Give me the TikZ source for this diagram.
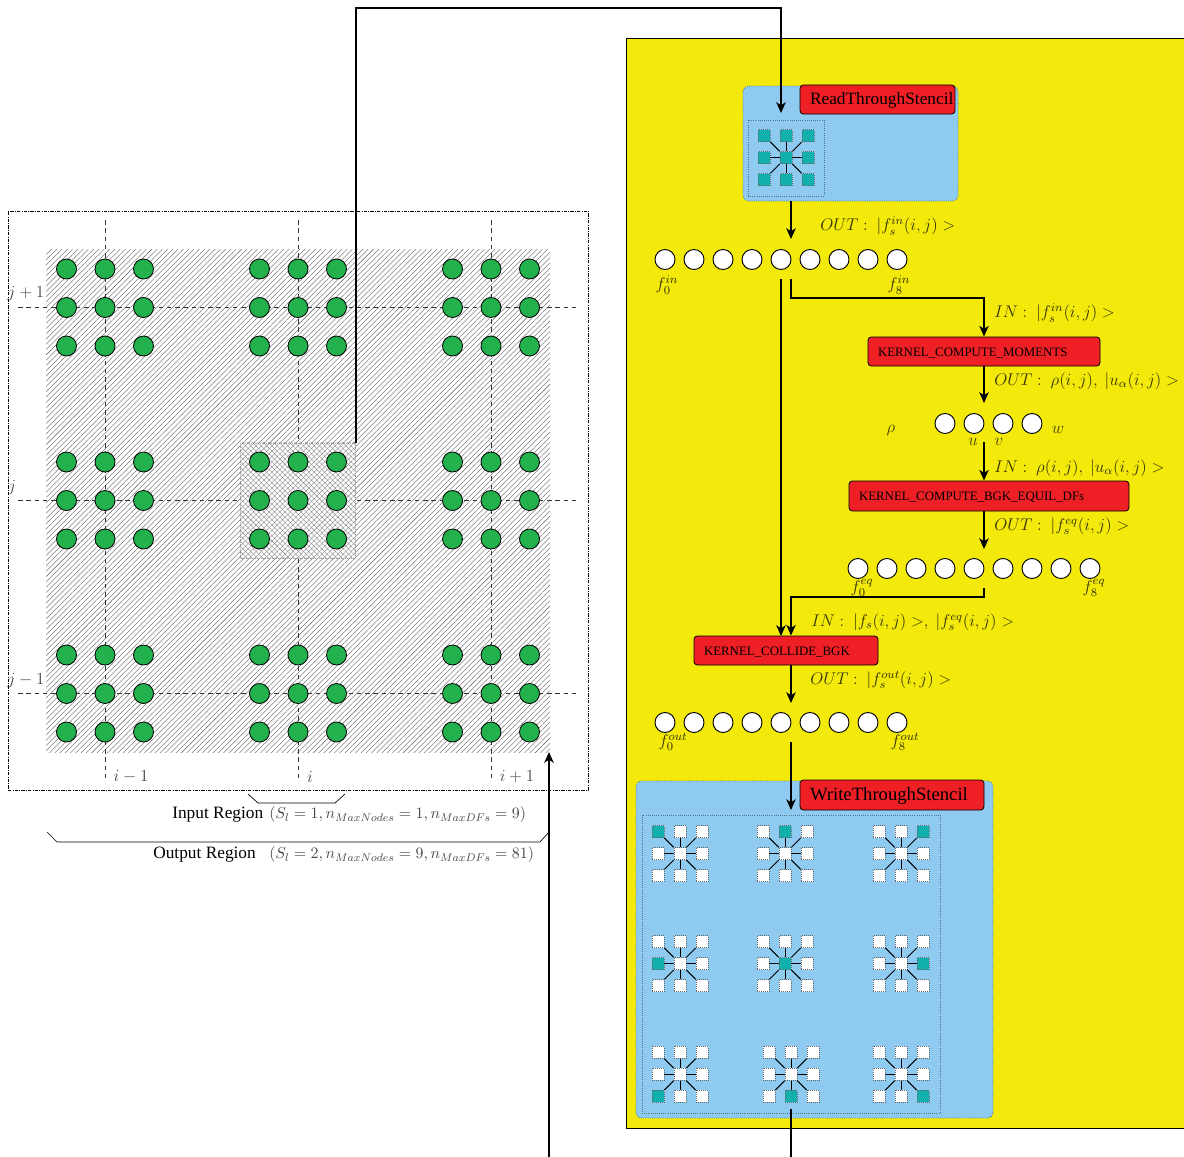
\documentclass[tikz,border=0pt]{standalone}
\usepackage{fontspec}
\usepackage{fix-cm}
\setmainfont{Liberation Serif}
\usetikzlibrary{arrows.meta,patterns.meta}
\definecolor{yel}{HTML}{F3EA0C}
\definecolor{skyb}{HTML}{8FCBF0}
\definecolor{redb}{HTML}{EE1F25}
\definecolor{grn}{HTML}{22B14C}
\definecolor{teal2}{HTML}{11B0AD}
\definecolor{dotc}{HTML}{4A7390}
\newcommand{\rlab}[2]{\makebox[#1][l]{\hspace{7.5pt}\raisebox{-1pt}[\dimexpr\height+1pt\relax][\dimexpr\depth+1pt\relax]{#2}}}
\newcommand{\mlab}{\fontsize{12.7}{15}\selectfont}
\newcommand{\klab}{\fontsize{9.65}{11}\selectfont}
\tikzset{
 flow/.style={line width=1.5pt,-{Stealth[length=8pt,width=7pt,inset=2.2pt]}},
 plainflow/.style={line width=1.5pt},
 dashline/.style={dashed,dash pattern=on 3.4pt off 2.8pt,line width=.6pt,black!80},
 gnode/.style={circle,draw=black,line width=.6pt,fill=grn,minimum size=15pt,inner sep=0pt},
 wnode/.style={circle,draw=black,line width=.7pt,fill=white,minimum size=15pt,inner sep=0pt},
 redbox/.style={draw=black,line width=.6pt,fill=redb,rounded corners=2.5pt,inner xsep=0pt,inner ysep=0pt,text=black},
 bluebox/.style={draw=dotc,densely dotted,line width=.6pt,fill=skyb,rounded corners=4pt,inner sep=0pt},
 innerbox/.style={draw=dotc,densely dotted,line width=.6pt,inner sep=0pt},
 sq/.style={draw=black!60,densely dotted,line width=.5pt,fill=white,minimum size=9pt,inner sep=0pt},
 sqt/.style={sq,fill=teal2},
 spoke/.style={line width=.75pt,black},
 mathl/.style={text=black,text opacity=.78,inner sep=0pt,font=\mlab},
 smalll/.style={text=black,text opacity=.72,inner sep=0pt,font=\mlab},
 regm/.style={text=black,text opacity=.72,inner sep=0pt,font=\fontsize{11.9}{14}\selectfont},
 reglab/.style={inner sep=0pt,font=\fontsize{13}{15}\selectfont},
}
% stencil: [base style], name, cx, cy, index of filled square (1..9 row-wise)
\newcommand{\stencil}[5][sq]{%
  \foreach \r in {0,1,2}{\foreach \c in {0,1,2}{%
    \pgfmathtruncatemacro{\idx}{\r*3+\c+1}%
    \pgfmathsetmacro{\sx}{#3+(\c-1)*22}%
    \pgfmathsetmacro{\sy}{#4+(\r-1)*22}%
    \ifnum\idx=#5\relax
      \node[sqt] (#2-\idx) at (\sx,\sy) {};
    \else
      \node[#1] (#2-\idx) at (\sx,\sy) {};
    \fi
  }}%
  \foreach \i in {1,2,3,4,6,7,8,9}{\draw[spoke] (#2-5) -- (#2-\i);}%
}
\begin{document}
\begin{tikzpicture}[x=.75pt,y=-.75pt]
\useasboundingbox (0,0) rectangle (1184,1156);
\fill[white] (0,0) rectangle (1184,1156);
% left block
\node[draw=black,dash pattern=on 2.4pt off 1pt on .6pt off 1pt,line width=.5pt,minimum width=435pt,minimum height=434.25pt,inner sep=0pt] (frame) at (298,500.5) {};
\fill[pattern={Lines[angle=45,distance=2.8pt,line width=.27pt]},pattern color=black!65] (46,249) rectangle (550,752);
\coordinate (v1t) at (105,220); \coordinate (v1b) at (105,781);
\coordinate (v2t) at (298,220); \coordinate (v2b) at (298,781);
\coordinate (v3t) at (491,220); \coordinate (v3b) at (491,781);
\coordinate (h1l) at (18,307.3); \coordinate (h1r) at (579,307.3);
\coordinate (h2l) at (18,500.3); \coordinate (h2r) at (579,500.3);
\coordinate (h3l) at (18,693.3); \coordinate (h3r) at (579,693.3);
\draw[dashline] (v1t) -- (v1b); \draw[dashline] (v2t) -- (v2b); \draw[dashline] (v3t) -- (v3b);
\draw[dashline] (h1l) -- (h1r); \draw[dashline] (h2l) -- (h2r); \draw[dashline] (h3l) -- (h3r);
% input region
\node[draw=black!35,densely dotted,line width=.4pt,fill=white,minimum size=86.25pt,inner sep=0pt] (inreg) at (298,500.5) {};
\fill[pattern={Lines[angle=45,distance=2.8pt,line width=.27pt]},pattern color=black!50] (inreg.south west) rectangle (inreg.north east);
\fill[pattern={Lines[angle=-45,distance=2.8pt,line width=.27pt]},pattern color=black!50] (inreg.south west) rectangle (inreg.north east);
\foreach \cx/\cn in {105/a,298/b,491/c}{\foreach \cy/\rn in {307.5/a,500.5/b,693.5/c}{
  \foreach \dx/\dn in {-38.5/1,0/2,38.5/3}{\foreach \dy/\en in {-38.5/1,0/2,38.5/3}{
    \node[gnode] (g\cn\rn\dn\en) at ({\cx+\dx},{\cy+\dy}) {};
  }}
}}
\node[smalll] (jp) at (26,294) {$j+1$};
\node[smalll] (j0) at (12,488) {$j$};
\node[smalll] (jm) at (26,681) {$j-1$};
\node[smalll] (im) at (131,777) {$i-1$};
\node[smalll] (i0) at (310,777) {$i$};
\node[smalll] (ip) at (517,777) {$i+1$};
% braces
\coordinate (b1a) at (248,794); \coordinate (b1b) at (258,803); \coordinate (b1c) at (335,803); \coordinate (b1d) at (345,794);
\draw[line width=.5pt] (b1a) -- (b1b) -- (b1c) -- (b1d);
\coordinate (b2a) at (47,832); \coordinate (b2b) at (57,842); \coordinate (b2c) at (540,842); \coordinate (b2d) at (549,832);
\draw[line width=.5pt] (b2a) -- (b2b) -- (b2c) -- (b2d);
\node[reglab,anchor=west] (irt) at (172,815) {Input Region};
\node[regm,anchor=west] (irm) at (269,815) {$(S_l=1,n_{MaxNodes}=1,n_{MaxDFs}=9)$};
\node[reglab,anchor=west] (ort) at (153,854.5) {Output Region};
\node[regm,anchor=west] (orm) at (269,855) {$(S_l=2,n_{MaxNodes}=9,n_{MaxDFs}=81)$};
% yellow panel
\node[draw=black,line width=.6pt,fill=yel,minimum width=450pt,minimum height=817.5pt,inner sep=0pt] (panel) at (926.5,583) {};
% top box
\node[bluebox,minimum width=161.25pt,minimum height=86.25pt] (rbox) at (850.5,143.5) {};
\node[innerbox,minimum size=57pt] (rin) at (786,158) {};
\node[redbox,minimum height=21.75pt] (rts) at (877.5,99.5) {\rlab{116.25pt}{\fontsize{13}{15}\selectfont ReadThroughStencil}};
\stencil[sqt]{s0}{786}{157.7}{5}
% row 1
\foreach \k in {0,...,8}{\node[wnode] (a\k) at ({665+29*\k},259.5) {};}
\node[mathl] (la0) at (667,285) {$f_0^{in}$};
\node[mathl] (la8) at (899,285) {$f_8^{in}$};
% kernel 1
\node[redbox,minimum height=21.75pt] (k1) at (984,351.5) {\rlab{174pt}{\klab KERNEL\_COMPUTE\_MOMENTS}};
% row 2
\foreach \k in {0,...,3}{\node[wnode] (b\k) at ({945+29*\k},423.5) {};}
\node[smalll] (lrho) at (891,430) {$\rho$};
\node[smalll] (lu) at (973,442) {$u$};
\node[smalll] (lv) at (999,442) {$v$};
\node[smalll] (lw) at (1058,430) {$w$};
% kernel 2
\node[redbox,minimum height=22.5pt] (k2) at (989,496) {\rlab{210pt}{\klab KERNEL\_COMPUTE\_BGK\_EQUIL\_DFs}};
% row 3
\foreach \k in {0,...,8}{\node[wnode] (c\k) at ({858+29*\k},568.5) {};}
\node[mathl] (lc0) at (862,588) {$f_0^{eq}$};
\node[mathl] (lc8) at (1094,588) {$f_8^{eq}$};
% kernel 3
\node[redbox,minimum height=21.75pt] (k3) at (786,650.5) {\rlab{138pt}{\klab KERNEL\_COLLIDE\_BGK}};
% row 4
\foreach \k in {0,...,8}{\node[wnode] (d\k) at ({665+29*\k},722.5) {};}
\node[mathl] (ld0) at (673,742) {$f_0^{out}$};
\node[mathl] (ld8) at (905,742) {$f_8^{out}$};
% bottom box
\node[bluebox,minimum width=267.75pt,minimum height=252.75pt] (wbox) at (814.5,949.5) {};
\node[innerbox,minimum width=223.5pt,minimum height=223.5pt] (win) at (791,964) {};
\node[redbox,minimum height=22.5pt] (wts) at (892,795) {\rlab{138pt}{\fontsize{14}{16}\selectfont WriteThroughStencil}};
\stencil{w1}{680}{853.7}{1}
\stencil{w2}{785}{853.7}{2}
\stencil{w3}{901}{853.7}{3}
\stencil{w4}{680}{963.7}{4}
\stencil{w5}{785}{963.7}{5}
\stencil{w6}{901}{963.7}{6}
\stencil{w7}{680}{1074.3}{7}
\stencil{w8}{791}{1074.3}{8}
\stencil{w9}{901}{1074.3}{9}
% flow labels
\node[mathl,anchor=west] at (820,226) {$OUT:\ |f_s^{in}(i,j)>$};
\node[mathl,anchor=west] at (994,313) {$IN:\ |f_s^{in}(i,j)>$};
\node[mathl,anchor=west] at (994,381) {$OUT:\ \rho(i,j),\ |u_\alpha(i,j)>$};
\node[mathl,anchor=west] at (994,468) {$IN:\ \rho(i,j),\ |u_\alpha(i,j)>$};
\node[mathl,anchor=west] at (994,526) {$OUT:\ |f_s^{eq}(i,j)>$};
\node[mathl,anchor=west] at (811,622) {$IN:\ |f_s(i,j)>,\ |f_s^{eq}(i,j)>$};
\node[mathl,anchor=west] at (810,680) {$OUT:\ |f_s^{out}(i,j)>$};
% connectors
\coordinate (t1) at (356,443); \coordinate (t2) at (356,8.5); \coordinate (t3) at (781,8.5); \coordinate (t4) at (781,113);
\draw[flow] (t1) -- (t2) -- (t3) -- (t4);
\coordinate (u1) at (549,1160); \coordinate (u2) at (549,752);
\draw[flow] (u1) -- (u2);
\coordinate (r1) at (791,201); \coordinate (r2) at (791,239);
\draw[flow] (r1) -- (r2);
\coordinate (m1) at (781,279); \coordinate (m2) at (781,636);
\draw[flow] (m1) -- (m2);
\coordinate (n1) at (791,279); \coordinate (n2) at (791,298); \coordinate (n3) at (984,298);
\draw[flow] (n1) -- (n2) -- (n3) -- (n3 |- k1.north);
\coordinate (p1) at (984,403);
\draw[flow] (k1.south -| p1) -- (p1);
\coordinate (q1) at (984,442);
\draw[flow] (q1) -- (q1 |- k2.north);
\coordinate (s1) at (984,549);
\draw[flow] (k2.south -| s1) -- (s1);
\coordinate (e1) at (984,588); \coordinate (e2) at (984,597); \coordinate (e3) at (791,597);
\draw[flow] (e1) -- (e2) -- (e3) -- (e3 |- k3.north);
\coordinate (h1) at (791,703);
\draw[flow] (k3.south -| h1) -- (h1);
\coordinate (o1) at (791,742); \coordinate (o2) at (791,810);
\draw[flow] (o1) -- (o2);
\coordinate (x1) at (791,1109); \coordinate (x2) at (791,1160);
\draw[plainflow] (x1) -- (x2);
\end{tikzpicture}
\end{document}
